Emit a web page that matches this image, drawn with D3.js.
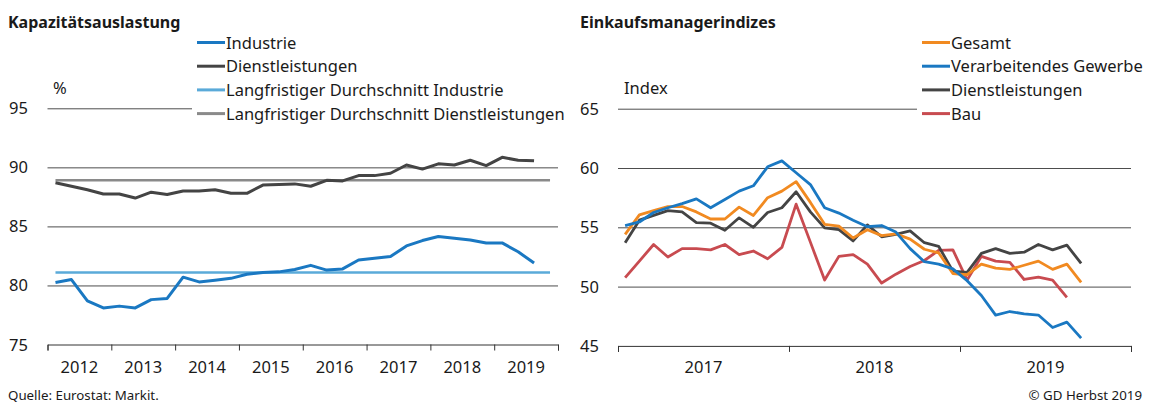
<!DOCTYPE html>
<html>
<head>
<meta charset="utf-8">
<script src="https://cdn.jsdelivr.net/npm/d3@7"></script>
<style>
  body { margin: 0; background: #fff; }
  svg { font-family: "Noto Sans", sans-serif; }
  .grid line { stroke: #4d4d4d; stroke-width: 1; }
  .grid path { display: none; }
  .xaxis path, .xaxis line { stroke: #333; stroke-width: 1; }
  .xaxis text { display: none; }
</style>
</head>
<body>
<svg id="chart" width="1150" height="403"></svg>
<script>
// Left panel: capacity utilisation, quarterly 2012Q1 .. 2019Q3
const capYears = [2012, 2013, 2014, 2015, 2016, 2017, 2018, 2019];
const capIndustrie = [80.25, 80.5, 78.7, 78.1, 78.25, 78.1, 78.8, 78.9, 80.7, 80.3, 80.45, 80.6, 80.95, 81.1, 81.15, 81.35,
  81.7, 81.3, 81.4, 82.15, 82.3, 82.45, 83.35, 83.8, 84.15, 84.0, 83.85, 83.6, 83.6, 82.85, 81.9];
const capDienst = [88.7, 88.4, 88.1, 87.75, 87.75, 87.4, 87.9, 87.7, 88.0, 88.0, 88.1, 87.8, 87.8, 88.5, 88.55, 88.6,
  88.4, 88.9, 88.85, 89.3, 89.3, 89.5, 90.2, 89.85, 90.3, 90.2, 90.6, 90.15, 90.85, 90.6, 90.55];
const avgIndustrie = 81.1;
const avgDienst = 88.9;
const capTicks = [75, 80, 85, 90, 95];

// Right panel: PMIs, monthly Jan 2017 .. Sep 2019
const pmiYears = [2017, 2018, 2019];
const pmiGesamt = [54.4, 56.05, 56.4, 56.75, 56.75, 56.3, 55.7, 55.7, 56.7, 56.0, 57.5, 58.05, 58.85, 57.1, 55.25, 55.1,
  54.1, 54.8, 54.3, 54.45, 54.0, 53.15, 52.85, 51.1, 51.0, 51.9, 51.55, 51.45, 51.8, 52.15, 51.45, 51.9, 50.35];
const pmiVerarb = [55.15, 55.45, 56.25, 56.65, 57.0, 57.4, 56.65, 57.35, 58.05, 58.5, 60.1, 60.6, 59.6, 58.6, 56.65, 56.2,
  55.6, 55.05, 55.15, 54.6, 53.2, 52.1, 51.9, 51.5, 50.5, 49.25, 47.6, 47.9, 47.7, 47.6, 46.55, 47.0, 45.65];
const pmiDienst = [53.7, 55.6, 56.0, 56.4, 56.3, 55.4, 55.35, 54.75, 55.8, 55.0, 56.25, 56.65, 58.0, 56.3, 54.95, 54.8,
  53.85, 55.2, 54.2, 54.4, 54.7, 53.7, 53.4, 51.3, 51.2, 52.8, 53.2, 52.8, 52.9, 53.55, 53.1, 53.5, 51.95];
const pmiBau = [50.75, 52.15, 53.55, 52.5, 53.2, 53.2, 53.1, 53.55, 52.7, 53.0, 52.35, 53.3, 56.95, 53.75, 50.55, 52.55,
  52.7, 51.9, 50.3, 51.05, 51.7, 52.2, 53.05, 53.1, 50.55, 52.55, 52.15, 52.05, 50.6, 50.8, 50.55, 49.1];
const pmiTicks = [45, 50, 55, 60, 65];

const col = {
  industrie: "#1a78c2",
  dienst: "#444444",
  avgInd: "#5aaad9",
  avgDienst: "#8a8a8a",
  gesamt: "#f18a21",
  bau: "#c84b50"
};

const svg = d3.select("#chart");
const FONT = 16.5;
const INK = "#1a1a1a";

// quarter / month positions as fractional years
const quarterPos = (i) => capYears[0] + (i + 0.5) / 4;
const monthPos = (i) => pmiYears[0] + (i + 0.5) / 12;

function panel(opts) {
  const g = svg.append("g");
  const x = d3.scaleLinear().domain(opts.xDomain).range(opts.xRange);
  const y = d3.scaleLinear().domain(d3.extent(opts.yTicks)).range(opts.yRange);

  g.append("g").attr("class", "grid")
    .attr("transform", `translate(${opts.xRange[0]},0)`)
    .call(d3.axisLeft(y).tickValues(opts.yTicks.slice(1)).tickSize(-(opts.xRange[1] - opts.xRange[0])).tickFormat(""));

  g.append("g").attr("class", "xaxis")
    .attr("transform", `translate(0,${opts.yRange[0]})`)
    .call(d3.axisBottom(x).tickValues(d3.range(opts.xDomain[0], opts.xDomain[1] + 1)).tickSize(6).tickSizeOuter(6));

  opts.years.forEach(yr => {
    g.append("text").attr("x", x(yr + 0.5)).attr("y", 373).attr("text-anchor", "middle")
      .attr("font-size", FONT).attr("fill", INK).text(yr);
  });

  opts.yTicks.forEach(t => {
    g.append("text").attr("x", opts.labelX).attr("y", y(t) + 6).attr("font-size", FONT)
      .attr("fill", INK).text(t);
  });

  g.append("text").attr("x", opts.unitX).attr("y", 94).attr("font-size", FONT).attr("fill", INK).text(opts.unit);
  g.append("text").attr("x", opts.titleX).attr("y", 28).attr("font-size", 16).attr("font-weight", "bold")
    .attr("fill", INK).text(opts.title);

  // legend with white background
  const lg = g.append("g");
  lg.append("rect").attr("x", opts.legendX - 5).attr("y", 32).attr("width", opts.legendW).attr("height", 96).attr("fill", "#fff");
  opts.legend.forEach((d, i) => {
    const ly = 42.5 + i * 23.7;
    lg.append("line").attr("x1", opts.legendX).attr("x2", opts.legendX + 28).attr("y1", ly).attr("y2", ly)
      .attr("stroke", d.color).attr("stroke-width", 3);
    lg.append("text").attr("x", opts.legendX + 29).attr("y", ly + 6).attr("font-size", FONT).attr("fill", INK).text(d.name);
  });

  return { g, x, y };
}

// ---- left panel
const L = panel({
  xDomain: [2012, 2020], xRange: [47.5, 558], yRange: [344.5, 108.3], yTicks: capTicks,
  years: capYears, labelX: 9, unitX: 53, unit: "%", titleX: 8, title: "Kapazitätsauslastung",
  legendX: 197, legendW: 380,
  legend: [
    { name: "Industrie", color: col.industrie },
    { name: "Dienstleistungen", color: col.dienst },
    { name: "Langfristiger Durchschnitt Industrie", color: col.avgInd },
    { name: "Langfristiger Durchschnitt Dienstleistungen", color: col.avgDienst }
  ]
});

const lineL = d3.line().x((d, i) => L.x(quarterPos(i))).y(d => L.y(d));
const avgSpan = [quarterPos(0), quarterPos(31)];
[[avgDienst, col.avgDienst], [avgIndustrie, col.avgInd]].forEach(([v, c]) => {
  L.g.append("line").attr("x1", L.x(avgSpan[0])).attr("x2", L.x(avgSpan[1]))
    .attr("y1", L.y(v)).attr("y2", L.y(v)).attr("stroke", c).attr("stroke-width", 2.5);
});
[[capDienst, col.dienst], [capIndustrie, col.industrie]].forEach(([s, c]) => {
  L.g.append("path").attr("d", lineL(s)).attr("fill", "none").attr("stroke", c)
    .attr("stroke-width", 3).attr("stroke-linejoin", "round");
});

// ---- right panel
const R = panel({
  xDomain: [2017, 2020], xRange: [618, 1131], yRange: [345.9, 108.7], yTicks: pmiTicks,
  years: pmiYears, labelX: 580, unitX: 624, unit: "Index", titleX: 580, title: "Einkaufsmanagerindizes",
  legendX: 922, legendW: 230,
  legend: [
    { name: "Gesamt", color: col.gesamt },
    { name: "Verarbeitendes Gewerbe", color: col.industrie },
    { name: "Dienstleistungen", color: col.dienst },
    { name: "Bau", color: col.bau }
  ]
});

const lineR = d3.line().x((d, i) => R.x(monthPos(i))).y(d => R.y(d));
[[pmiBau, col.bau], [pmiDienst, col.dienst], [pmiGesamt, col.gesamt], [pmiVerarb, col.industrie]].forEach(([s, c]) => {
  R.g.append("path").attr("d", lineR(s)).attr("fill", "none").attr("stroke", c)
    .attr("stroke-width", 2.8).attr("stroke-linejoin", "round");
});

// footer
svg.append("text").attr("x", 8).attr("y", 400).attr("font-size", 13.3).attr("fill", INK).text("Quelle: Eurostat: Markit.");
svg.append("text").attr("x", 1142).attr("y", 400).attr("font-size", 13.3).attr("fill", INK)
  .attr("text-anchor", "end").text("© GD Herbst 2019");
</script>
</body>
</html>
